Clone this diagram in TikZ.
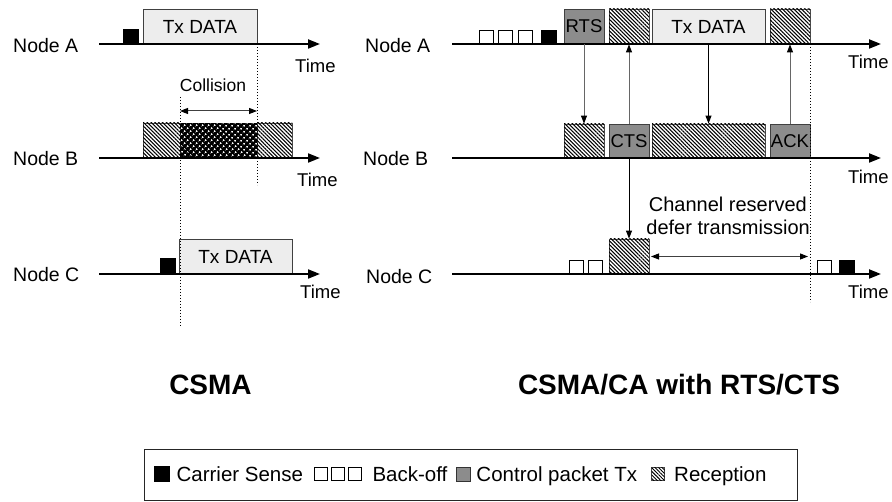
\documentclass[tikz,border=0pt]{standalone}
\usepackage{fontspec}
\setmainfont{Liberation Sans}
\usetikzlibrary{arrows.meta,patterns.meta,positioning}
\newcommand\mkbox[7]{%
  \pgfmathsetmacro\bxw{#5-#3}\pgfmathsetmacro\bxh{#6-#4}%
  \pgfmathsetmacro\bxcx{(#3+#5)/2}\pgfmathsetmacro\bxcy{(#4+#6)/2}%
  \node[#1, minimum width=\bxw pt, minimum height=\bxh pt, inner sep=0pt] (#2) at (\bxcx,\bxcy) {#7};}
\begin{document}
\begin{tikzpicture}[x=1pt,y=-1pt,
  font=\fontsize{19.5}{22.5}\selectfont,
  axis/.style={line width=2pt, -{Triangle[length=12pt,width=9pt]}},
  lab/.style={inner sep=0pt, anchor=base west},
  timelab/.style={inner sep=0pt, anchor=base west, font=\fontsize{18.5}{20}\selectfont},
  boxtxt/.style={font=\fontsize{19}{20}\selectfont},
  databox/.style={draw=black!75, line width=0.8pt, fill=black!7, boxtxt},
  ctrlbox/.style={draw=black!75, line width=0.8pt, fill=black!45, font=\fontsize{18.5}{20}\selectfont},
  hatchbox/.style={draw=black!70, line width=0.8pt, fill=white, postaction={pattern={Lines[angle=-45,distance=2.7pt,line width=1.05pt]}}},
  collbox/.style={draw=black, line width=0.8pt, fill=black, postaction={pattern={Dots[angle=45,distance=4pt,radius=1.15pt]}, pattern color=white}},
  csbox/.style={draw=black, fill=black, line width=0.5pt},
  bobox/.style={draw=black, fill=white, line width=0.9pt},
  dotline/.style={line width=0.8pt, dash pattern=on 0.9pt off 2.1pt},
  msg/.style={line width=1pt, draw=black!60, -{Triangle[length=8pt,width=6pt,color=black]}},
  msgk/.style={line width=1pt, draw=black, -{Triangle[length=8pt,width=6pt]}},
  span/.style={line width=1pt, draw=black!75, {Triangle[length=8pt,width=6pt,color=black]}-{Triangle[length=8pt,width=6pt,color=black]}},
  title/.style={inner sep=0pt, anchor=base, font=\fontsize{28}{30}\selectfont\bfseries},
  legtxt/.style={inner sep=0pt, anchor=base west, font=\fontsize{20.5}{22}\selectfont}
]
\useasboundingbox[fill=white] (0,0) rectangle (892,502);

% ================= LEFT: CSMA =================
\coordinate (lA0) at (99,44);  \coordinate (lA1) at (320,44);
\coordinate (lB0) at (99,158); \coordinate (lB1) at (320,158);
\coordinate (lC0) at (99,274); \coordinate (lC1) at (320,274);

\node[lab] (lnA) at (13,53) {Node A};
\node[lab] (lnB) at (13,166) {Node B};
\node[lab] (lnC) at (13,282) {Node C};

% Node A
\mkbox{csbox}{lAcs}{123}{29}{138}{44}{}
\mkbox{databox}{lAdata}{143}{9}{257}{44}{Tx DATA}
% Node B
\mkbox{hatchbox}{lBh1}{143}{123}{180}{158}{}
\mkbox{collbox}{lBcol}{180}{123}{257}{158}{}
\mkbox{hatchbox}{lBh2}{257}{123}{292}{158}{}
% Node C
\mkbox{csbox}{lCcs}{160}{258}{175}{274}{}
\mkbox{databox}{lCdata}{179}{239}{292}{274}{Tx DATA}

\draw[axis] (lA0) -- (lA1);
\draw[axis] (lB0) -- (lB1);
\draw[axis] (lC0) -- (lC1);

\node[timelab] (ltA) at (295,73) {Time};
\node[timelab] (ltB) at (297,187) {Time};
\node[timelab] (ltC) at (300,299) {Time};

% dotted guides
\coordinate (ld1t) at (257,44);  \coordinate (ld1b) at (257,185);
\coordinate (ld2t) at (180,97);  \coordinate (ld2b) at (180,327);
\draw[dotline] (ld1t) -- (ld1b);
\draw[dotline] (ld2t) -- (ld2b);

\node[inner sep=0pt, anchor=base, font=\fontsize{17.5}{20}\selectfont] (coll) at (213,92) {Collision};
\coordinate (colL) at (180,111); \coordinate (colR) at (257,111);
\draw[span] (colL) -- (colR);

\node[title] (tcsma) at (210.5,395) {CSMA};

% ================= RIGHT: CSMA/CA =================
\coordinate (rA0) at (452,44);  \coordinate (rA1) at (881,44);
\coordinate (rB0) at (452,158); \coordinate (rB1) at (881,158);
\coordinate (rC0) at (452,274); \coordinate (rC1) at (881,274);

\node[lab] (rnA) at (365,53) {Node A};
\node[lab] (rnB) at (363,166) {Node B};
\node[lab] (rnC) at (366,284) {Node C};

% Node A
\mkbox{bobox}{rAb1}{479}{30}{493}{44}{}
\mkbox{bobox}{rAb2}{498.5}{30}{512.5}{44}{}
\mkbox{bobox}{rAb3}{518}{30}{532}{44}{}
\mkbox{csbox}{rAcs}{541}{30}{556}{44}{}
\mkbox{ctrlbox}{rArts}{564}{9}{604}{44}{RTS}
\mkbox{hatchbox}{rAh1}{609}{9}{649}{44}{}
\mkbox{databox}{rAdata}{652}{9}{765}{44}{Tx DATA}
\mkbox{hatchbox}{rAh2}{770}{9}{810}{44}{}
% Node B
\mkbox{hatchbox}{rBh1}{564}{124}{604}{158}{}
\mkbox{ctrlbox}{rBcts}{609}{124}{649}{158}{CTS}
\mkbox{hatchbox}{rBh2}{652}{124}{765}{158}{}
\mkbox{ctrlbox}{rBack}{770}{124}{810}{158}{ACK}
% Node C
\mkbox{bobox}{rCb1}{569}{260}{583}{274}{}
\mkbox{bobox}{rCb2}{588.5}{260}{602.5}{274}{}
\mkbox{hatchbox}{rCh}{609}{239}{649}{274}{}
\mkbox{bobox}{rCb3}{817}{260}{831}{274}{}
\mkbox{csbox}{rCcs}{839}{260}{854}{274}{}

\draw[axis] (rA0) -- (rA1);
\draw[axis] (rB0) -- (rB1);
\draw[axis] (rC0) -- (rC1);

\node[timelab] (rtA) at (848,69) {Time};
\node[timelab] (rtB) at (848,184) {Time};
\node[timelab] (rtC) at (848,299) {Time};

% messages
\draw[msg]  (rArts.south) -- (rBh1.north);
\draw[msg]  (rBcts.north) -- (rAh1.south);
\draw[msgk] (rBcts.south) -- (rCh.north);
\draw[msgk] (rAdata.south) -- (rBh2.north);
\draw[msg]  (rBack.north) -- (rAh2.south);

% dotted guide
\coordinate (rdt) at (810,44); \coordinate (rdb) at (810,302);
\draw[dotline] (rdt) -- (rdb);

\node[inner sep=0pt, anchor=base east, font=\fontsize{20}{22}\selectfont] (chres1) at (807,212) {Channel reserved};
\node[inner sep=0pt, anchor=base east, font=\fontsize{20}{22}\selectfont] (chres2) at (810,234.5) {defer transmission};
\coordinate (resvL) at (651,256.5); \coordinate (resvR) at (808,256.5);
\draw[span] (resvL) -- (resvR);

\node[title] (tcsmaca) at (679,395) {CSMA/CA with RTS/CTS};

% ================= LEGEND =================
\node[draw=black!85, line width=0.8pt, minimum width=653pt, minimum height=51pt, inner sep=0pt] (legend) at (470.5,474.5) {};
\coordinate (lgb) at (0,482);
\node[fill=black, minimum width=16pt, minimum height=16pt, inner sep=0pt, anchor=west] (li1) at (154,474) {};
\node[legtxt, xshift=6pt] (lt1) at (li1.east |- lgb) {Carrier Sense};
\node[draw=black, line width=0.7pt, fill=white, minimum width=13pt, minimum height=13pt, inner sep=0pt, anchor=west, xshift=11pt] (li2a) at (lt1.east |- li1) {};
\node[draw=black, line width=0.7pt, fill=white, minimum width=13pt, minimum height=13pt, inner sep=0pt, anchor=west, xshift=3pt] (li2b) at (li2a.east) {};
\node[draw=black, line width=0.7pt, fill=white, minimum width=13pt, minimum height=13pt, inner sep=0pt, anchor=west, xshift=3pt] (li2c) at (li2b.east) {};
\node[legtxt, xshift=11pt] (lt2) at (li2c.east |- lgb) {Back-off};
\node[draw=black!80, line width=0.7pt, fill=black!45, minimum width=14pt, minimum height=14pt, inner sep=0pt, anchor=west, xshift=8pt] (li3) at (lt2.east |- li1) {};
\node[legtxt, xshift=6pt] (lt3) at (li3.east |- lgb) {Control packet Tx};
\node[draw=black!70, line width=0.7pt, fill=white, postaction={pattern={Lines[angle=-45,distance=2.5pt,line width=0.9pt]}}, minimum width=13pt, minimum height=13pt, inner sep=0pt, anchor=west, xshift=14pt] (li4) at (lt3.east |- li1) {};
\node[legtxt, xshift=9pt] (lt4) at (li4.east |- lgb) {Reception};
\end{tikzpicture}
\end{document}
